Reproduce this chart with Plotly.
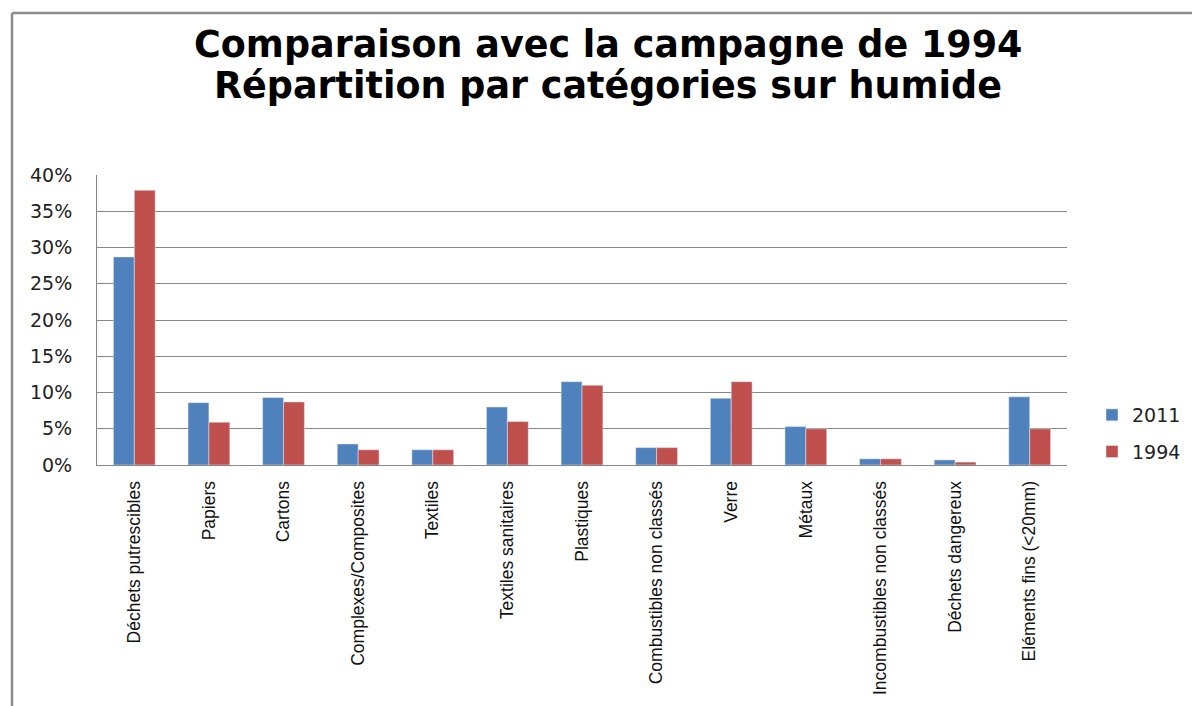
import plotly.graph_objects as go

categories = ["Déchets putrescibles", "Papiers", "Cartons", "Complexes/Composites",
              "Textiles", "Textiles sanitaires", "Plastiques", "Combustibles non classés",
              "Verre", "Métaux", "Incombustibles non classés", "Déchets dangereux",
              "Eléments fins (<20mm)"]
values_2011 = [28.7, 8.6, 9.3, 2.9, 2.1, 8.0, 11.5, 2.4, 9.2, 5.3, 0.85, 0.7, 9.4]
values_1994 = [37.9, 5.9, 8.7, 2.1, 2.1, 6.0, 11.0, 2.4, 11.5, 5.0, 0.85, 0.4, 5.0]
y_ticks = [0, 5, 10, 15, 20, 25, 30, 35, 40]
title_lines = ["Comparaison avec la campagne de 1994",
               "Répartition par catégories sur humide"]

W, H = 1192, 706
L, T = 97, 175
R, B = W - 1067, H - 465

fig = go.Figure()
fig.add_trace(go.Bar(name="2011", x=categories, y=values_2011, marker_color="#4F81BD",
                     legendgroup="a"))
fig.add_trace(go.Bar(name="1994", x=categories, y=values_1994, marker_color="#C0504D",
                     legendgroup="b"))

pw = W - L - R
ph = H - T - B
def px_x(sx):
    return (sx - L) / pw
def px_y(sy):
    return (H - B - sy) / ph

# outer chart border (top and left lines)
fig.add_shape(type="line", xref="paper", yref="paper", x0=px_x(12), x1=px_x(1230),
              y0=px_y(13), y1=px_y(13), line=dict(color="#8C8C8C", width=2.5))
fig.add_shape(type="line", xref="paper", yref="paper", x0=px_x(12), x1=px_x(12),
              y0=px_y(13), y1=px_y(760), line=dict(color="#8C8C8C", width=2.5))

for line, sy in zip(title_lines, [44, 86]):
    fig.add_annotation(text=line, xref="paper", yref="paper", x=px_x(608), y=px_y(sy),
                       xanchor="center", yanchor="middle", showarrow=False,
                       font=dict(family="DejaVu Sans", size=36.5, color="black",
                                 weight="bold"))

fig.update_layout(
    width=W, height=H,
    margin=dict(l=L, r=R, t=T, b=B, autoexpand=False),
    paper_bgcolor="white", plot_bgcolor="white",
    barmode="group", bargap=0.44, bargroupgap=0,
    legend=dict(xref="container", yref="container", x=1092 / W, y=1 - 396 / H,
                xanchor="left", yanchor="top",
                font=dict(family="DejaVu Sans", size=19, color="#222"),
                tracegroupgap=9, bgcolor="rgba(0,0,0,0)"),
    showlegend=True,
    xaxis=dict(tickangle=-90, showline=True, linecolor="#868686", linewidth=1,
               ticks="", tickfont=dict(family="Liberation Sans", size=17.5, color="#111"),
               ticklabelstandoff=8, showgrid=False, automargin=False),
    yaxis=dict(range=[0, 40], tickvals=y_ticks, ticktext=[f"{v}%" for v in y_ticks],
               showline=True, linecolor="#868686", linewidth=1,
               gridcolor="#868686", gridwidth=1, ticks="",
               tickfont=dict(family="DejaVu Sans", size=19, color="#222"),
               ticklabelstandoff=20, zeroline=False, automargin=False),
)

fig.write_html("out.html", config={"displayModeBar": False},
               post_script="document.body.style.margin='0';document.body.style.overflow='hidden';")
